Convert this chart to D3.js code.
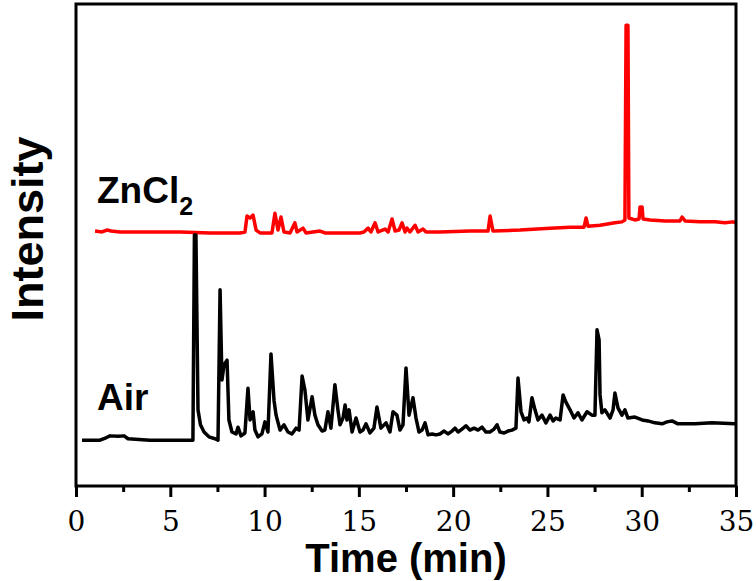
<!DOCTYPE html>
<html>
<head>
<meta charset="utf-8">
<script src="https://cdn.jsdelivr.net/npm/d3@7"></script>
<style>
  body { margin: 0; background: #fff; }
  svg { display: block; }
</style>
</head>
<body>
<div id="chart"></div>
<script>
// retention time (min) / intensity (a.u.)
const airTime = [0.32, 1.27, 1.59, 1.80, 2.23, 2.55, 2.76, 3.92, 5.52, 6.20, 6.28, 6.36, 6.47, 6.60, 6.79, 7.05, 7.37, 7.53,
  7.64, 7.74, 7.85, 8.01, 8.11, 8.27, 8.49, 8.59, 8.75, 8.96, 9.12, 9.23, 9.39, 9.49, 9.65, 9.86, 10.02, 10.18, 10.34, 10.50,
  10.61, 10.82, 11.03, 11.24, 11.45, 11.67, 11.83, 11.99, 12.14, 12.30, 12.52, 12.67, 12.83, 13.05, 13.20, 13.36, 13.52,
  13.73, 13.89, 14.00, 14.16, 14.27, 14.37, 14.48, 14.64, 14.85, 15.06, 15.22, 15.38, 15.59, 15.80, 15.96, 16.17, 16.44,
  16.65, 16.81, 17.02, 17.18, 17.34, 17.50, 17.66, 17.87, 18.03, 18.19, 18.35, 18.51, 18.67, 18.88, 19.09, 19.30, 19.52,
  19.73, 19.94, 20.10, 20.26, 20.47, 20.68, 20.89, 21.11, 21.32, 21.53, 21.74, 21.95, 22.17, 22.33, 22.48, 22.70, 22.91,
  23.12, 23.33, 23.44, 23.60, 23.76, 23.92, 24.02, 24.18, 24.34, 24.50, 24.71, 24.92, 25.14, 25.30, 25.45, 25.67, 25.83,
  25.98, 26.20, 26.41, 26.62, 26.83, 27.10, 27.36, 27.52, 27.63, 27.74, 27.79, 27.89, 28.05, 28.32, 28.48, 28.58, 28.74,
  28.95, 29.11, 29.27, 29.64, 30.02, 30.33, 30.70, 31.08, 31.34, 31.61, 31.92, 32.83, 33.73, 34.95];
const airInt = [9.5, 9.5, 10.0, 10.4, 10.3, 10.4, 9.8, 9.5, 9.5, 9.5, 52.1, 52.1, 15.8, 12.7, 11.2, 10.2, 9.8, 9.5,
  40.7, 22.0, 25.1, 26.1, 13.7, 11.2, 10.8, 12.2, 10.4, 11.0, 20.3, 13.7, 15.4, 11.6, 10.2, 10.8, 13.3, 11.2, 27.4, 17.8,
  14.7, 11.6, 12.7, 11.2, 10.8, 12.0, 11.6, 22.8, 19.9, 13.7, 18.5, 14.7, 12.7, 11.4, 11.6, 15.4, 12.0,
  21.0, 15.8, 12.7, 14.1, 16.8, 13.7, 15.8, 11.2, 14.1, 11.2, 11.6, 12.9, 11.0, 12.0, 16.4, 12.0, 13.1,
  11.2, 15.4, 14.7, 11.6, 12.7, 24.5, 14.7, 18.3, 14.1, 11.2, 11.6, 13.1, 10.6, 10.8, 10.6, 10.8, 11.4,
  10.8, 11.4, 12.0, 11.2, 11.8, 12.5, 11.6, 12.0, 11.6, 12.2, 11.2, 11.2, 11.8, 12.7, 11.2, 11.0, 11.4,
  11.6, 12.0, 22.4, 15.4, 13.7, 14.1, 13.3, 18.3, 15.8, 13.7, 14.7, 13.1, 14.7, 13.5, 14.1, 13.7, 18.9,
  17.4, 15.8, 14.1, 15.2, 13.7, 15.4, 14.7, 14.7, 32.4, 30.3, 18.9, 15.2, 15.8, 14.1, 15.8, 19.3, 16.2,
  14.7, 15.8, 14.1, 14.3, 13.7, 13.5, 13.1, 12.9, 13.3, 13.5, 12.9, 12.9, 13.1, 12.9];

const zncl2Time = [1.01, 1.38, 1.64, 1.86, 2.33, 3.92, 5.52, 7.11, 8.70, 8.96, 9.07, 9.23, 9.39, 9.55, 9.76, 10.39, 10.55,
  10.71, 10.87, 11.03, 11.35, 11.61, 11.72, 12.04, 12.20, 12.94, 13.20, 14.00, 15.06, 15.27, 15.49, 15.64, 15.86, 16.02,
  16.39, 16.55, 16.76, 16.92, 17.13, 17.29, 17.45, 17.55, 17.71, 17.98, 18.14, 18.40, 18.56, 19.30, 20.89, 21.85, 21.96,
  22.11, 23.55, 25.14, 26.20, 26.94, 27.05, 27.15, 27.79, 28.58, 28.95, 29.11, 29.17, 29.27, 29.32, 29.64, 29.86, 29.91,
  30.02, 30.07, 30.44, 31.24, 32.03, 32.14, 32.30, 33.09, 33.89, 34.42, 34.84, 35.00];
const zncl2Int = [52.9, 52.7, 53.1, 52.9, 52.7, 52.7, 52.7, 52.5, 52.5, 52.7, 56.0, 55.6, 56.2, 53.1, 52.5, 52.5, 56.6,
  53.1, 55.8, 52.7, 52.5, 54.6, 52.7, 53.5, 52.5, 52.9, 52.5, 52.5, 52.5, 52.7, 53.5, 52.7, 54.6, 52.7,
  53.3, 52.7, 55.4, 52.9, 53.1, 54.6, 52.7, 53.5, 52.7, 54.1, 52.7, 53.3, 52.7, 52.7, 52.9, 52.9, 56.0,
  52.9, 53.1, 53.5, 53.7, 53.7, 55.6, 53.9, 54.1, 54.6, 54.8, 55.2, 95.6, 95.6, 55.6, 55.2, 55.4, 57.9,
  57.9, 55.4, 55.2, 55.0, 55.0, 55.8, 55.0, 54.8, 54.8, 54.6, 54.8, 54.6];

const xTicks = [0, 5, 10, 15, 20, 25, 30, 35];
const xMinorTicks = [2.5, 7.5, 12.5, 17.5, 22.5, 27.5, 32.5];

const width = 756, height = 581;
const margin = { top: 4, right: 20, bottom: 95, left: 76 };
const innerW = width - margin.left - margin.right;
const innerH = height - margin.top - margin.bottom;

const svg = d3.select('#chart').append('svg')
  .attr('width', width)
  .attr('height', height);

const g = svg.append('g')
  .attr('transform', `translate(${margin.left},${margin.top})`);

const x = d3.scaleLinear().domain([0, 35]).range([0, innerW]);
const y = d3.scaleLinear().domain([0, 100]).range([innerH, 0]);

const line = d3.line()
  .x(d => x(d[0]))
  .y(d => y(d[1]));

g.append('path')
  .datum(zncl2Time.map((t, i) => [t, zncl2Int[i]]))
  .attr('fill', 'none')
  .attr('stroke', '#ff0000')
  .attr('stroke-width', 3.5)
  .attr('stroke-linejoin', 'round')
  .attr('d', line);

g.append('path')
  .datum(airTime.map((t, i) => [t, airInt[i]]))
  .attr('fill', 'none')
  .attr('stroke', '#000')
  .attr('stroke-width', 3.5)
  .attr('stroke-linejoin', 'round')
  .attr('d', line);

// frame
g.append('rect')
  .attr('width', innerW)
  .attr('height', innerH)
  .attr('fill', 'none')
  .attr('stroke', '#000')
  .attr('stroke-width', 3);

// bottom axis
const xAxis = g.append('g')
  .attr('transform', `translate(0,${innerH})`)
  .call(d3.axisBottom(x).tickValues(xTicks).tickSize(11).tickPadding(14).tickFormat(d3.format('d')));
xAxis.attr('font-family', null);
xAxis.select('.domain').remove();
xAxis.selectAll('line').attr('stroke-width', 3);
xAxis.selectAll('text')
  .style('font-family', "'DejaVu Serif', 'Liberation Serif', serif")
  .attr('font-size', 28)
  .attr('fill', '#000');

const xMinor = g.append('g')
  .attr('transform', `translate(0,${innerH})`)
  .call(d3.axisBottom(x).tickValues(xMinorTicks).tickSize(6).tickFormat(''));
xMinor.select('.domain').remove();
xMinor.selectAll('line').attr('stroke-width', 3);

// labels
svg.append('text')
  .attr('x', margin.left + innerW / 2)
  .attr('y', 572)
  .attr('text-anchor', 'middle')
  .attr('font-family', '"Liberation Sans", Arial, sans-serif')
  .attr('font-weight', 'bold')
  .attr('font-size', 40)
  .text('Time (min)');

svg.append('text')
  .attr('transform', 'translate(43,229) rotate(-90)')
  .attr('text-anchor', 'middle')
  .attr('font-family', '"Liberation Sans", Arial, sans-serif')
  .attr('font-weight', 'bold')
  .attr('font-size', 45)
  .text('Intensity');

const zn = svg.append('text')
  .attr('x', 97)
  .attr('y', 203)
  .attr('font-family', '"Liberation Sans", Arial, sans-serif')
  .attr('font-weight', 'bold')
  .attr('font-size', 37)
  .text('ZnCl');
zn.append('tspan')
  .attr('font-size', 25)
  .attr('dy', 12)
  .text('2');

svg.append('text')
  .attr('x', 97)
  .attr('y', 410)
  .attr('font-family', '"Liberation Sans", Arial, sans-serif')
  .attr('font-weight', 'bold')
  .attr('font-size', 37)
  .text('Air');
</script>
</body>
</html>
